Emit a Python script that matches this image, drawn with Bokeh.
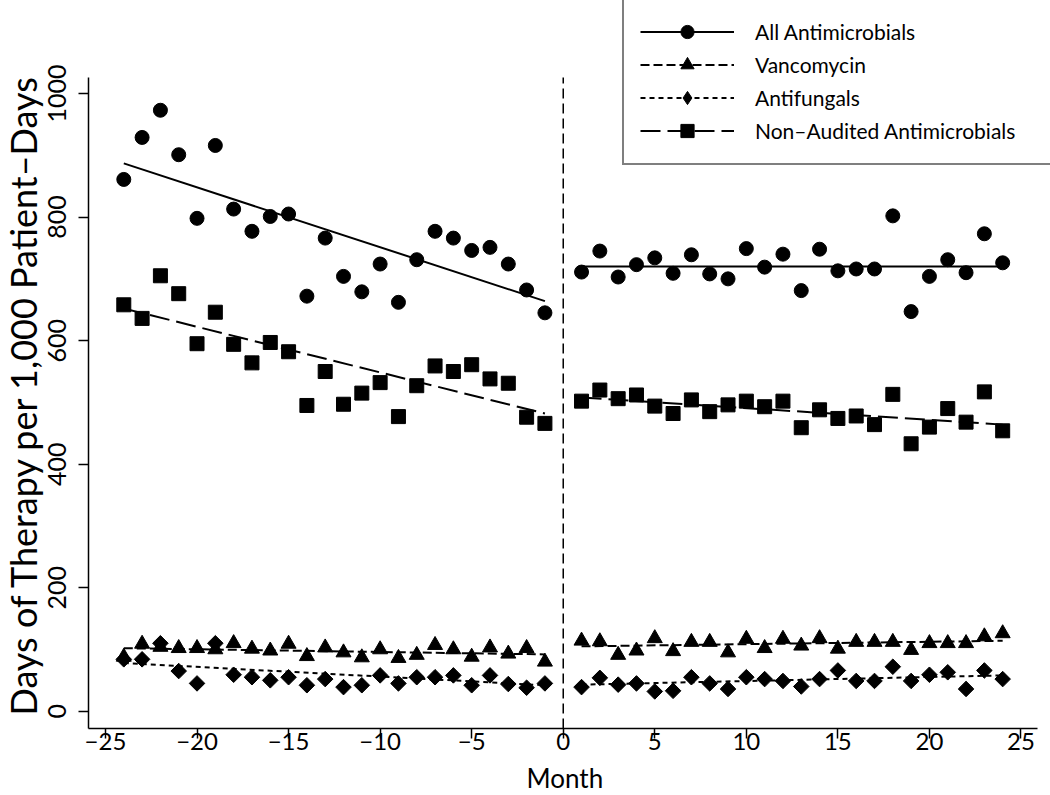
import math
from bokeh.plotting import figure
from bokeh.models import Range1d, FixedTicker, Legend, LegendItem, Title
from bokeh.embed import file_html
from bokeh.resources import INLINE

# ---------------- data ----------------
months_pre = [-24, -23, -22, -21, -20, -19, -18, -17, -16, -15, -14, -13,
              -12, -11, -10, -9, -8, -7, -6, -5, -4, -3, -2, -1]
months_post = [1, 2, 3, 4, 5, 6, 7, 8, 9, 10, 11, 12,
               13, 14, 15, 16, 17, 18, 19, 20, 21, 22, 23, 24]

all_pre = [861, 929, 973, 901, 798, 916, 813, 777, 801, 805, 672, 766,
           704, 679, 724, 662, 731, 777, 766, 746, 751, 724, 682, 645]
all_post = [711, 745, 703, 723, 734, 709, 739, 708, 700, 749, 719, 740,
            681, 748, 713, 716, 716, 802, 647, 704, 731, 710, 773, 726]

vanco_pre = [88, 109, 104, 102, 102, 100, 110, 101, 98, 109, 89, 103,
             95, 87, 100, 86, 91, 107, 100, 88, 103, 93, 102, 80]
vanco_post = [114, 113, 91, 98, 118, 97, 112, 112, 95, 117, 102, 117,
              106, 118, 101, 112, 112, 112, 99, 110, 110, 110, 121, 126]

fungal_pre = [84, 84, 110, 65, 45, 110, 59, 55, 50, 55, 42, 52,
              39, 42, 58, 45, 55, 55, 58, 42, 58, 44, 38, 45]
fungal_post = [39, 54, 43, 45, 32, 33, 55, 45, 36, 55, 52, 49,
               40, 52, 66, 49, 49, 72, 49, 59, 63, 36, 66, 52]

nonaud_pre = [658, 636, 705, 676, 595, 646, 594, 564, 597, 582, 495, 550,
              497, 515, 532, 477, 527, 559, 550, 561, 538, 531, 476, 466]
nonaud_post = [502, 520, 506, 512, 494, 482, 504, 485, 496, 502, 493, 502,
               459, 488, 474, 478, 464, 513, 433, 460, 490, 468, 517, 454]

# fitted segment trend lines (start, end)
seg_x = [[-24, -1], [1, 24]]
trend_all = [[887, 664], [720, 720]]
trend_vanco = [[102, 92], [105, 114]]
trend_fungal = [[78, 42], [43, 58]]
trend_nonaud = [[652, 482], [508, 464]]

x_ticks = [-25, -20, -15, -10, -5, 0, 5, 10, 15, 20, 25]
y_ticks = [0, 200, 400, 600, 800, 1000]
x_axis_span = (-25.9, 25.9)
y_axis_span = (-28, 1026)
intervention_month = 0

FONT = "Lato"

# The frame covers almost the whole canvas; the axes are pinned at the ends of
# their spans so that tick labels fall inside the frame.
p = figure(width=1050, height=795, output_backend="svg", toolbar_location=None,
           x_range=Range1d(-28.221, 26.612), y_range=Range1d(-78.2, 1150.7),
           min_border_left=46, min_border_right=0, min_border_top=0,
           min_border_bottom=36)
p.outline_line_color = None
p.xgrid.grid_line_color = None
p.ygrid.grid_line_color = None
p.background_fill_color = "white"
p.border_fill_color = "white"

for ax in (p.xaxis[0], p.yaxis[0]):
    ax.axis_line_color = "black"
    ax.axis_line_width = 1.5
    ax.major_tick_line_color = "black"
    ax.major_tick_line_width = 1.5
    ax.major_tick_in = 0
    ax.major_tick_out = 10
    ax.minor_tick_line_color = None
    ax.major_label_text_font = FONT
    ax.major_label_text_color = "black"

p.xaxis.bounds = x_axis_span
p.yaxis.bounds = y_axis_span
p.xaxis.fixed_location = y_axis_span[0]
p.yaxis.fixed_location = x_axis_span[0]
p.xaxis.ticker = FixedTicker(ticks=x_ticks)
p.yaxis.ticker = FixedTicker(ticks=y_ticks)
p.xaxis.major_label_overrides = {t: (("\u2212" + str(-t)) if t < 0 else str(t)) for t in x_ticks}
p.xaxis.major_label_text_font_size = "24px"
p.yaxis.major_label_text_font_size = "25px"
p.yaxis.major_label_orientation = "vertical"
p.xaxis.major_label_standoff = -5
p.yaxis.major_label_standoff = 13

# axis titles
p.add_layout(Title(text="Month", align="left", offset=480, standoff=0,
                   text_font=FONT, text_font_size="26px", text_font_style="normal",
                   text_color="black"), "below")
p.add_layout(Title(text="Days of Therapy per 1,000 Patient\u2013Days", align="left",
                   offset=44, standoff=0, vertical_align="top", text_font=FONT,
                   text_font_size="36px", text_font_style="normal",
                   text_color="black"), "left")

# vertical interruption line at month 0 spanning the y axis
p.segment(x0=[intervention_month], y0=[y_axis_span[0]], x1=[intervention_month],
          y1=[y_axis_span[1]], line_color="black", line_width=1.5, line_dash="10 5")

def series(pre, post, trend, marker, size, dash, angle=0.0, legend_marker=None):
    ln = p.multi_line(xs=seg_x, ys=trend, line_color="black", line_width=2,
                      line_dash=dash)
    sc = p.scatter(months_pre + months_post, pre + post, marker=marker,
                   size=size, angle=angle, fill_color="black", line_color="black")
    if legend_marker is None:
        return [ln, sc]
    # legend-only key marker (NaN position, never drawn in the plot area)
    key = p.scatter(x=[float("nan")], y=[float("nan")], marker=legend_marker,
                    size=size, fill_color="black", line_color="black")
    return [ln, key]

r_all = series(all_pre, all_post, trend_all, "circle", 14, "solid")
r_van = series(vanco_pre, vanco_post, trend_vanco, "triangle", 15, "9 4")
r_fun = series(fungal_pre, fungal_post, trend_fungal, "square", 11, "5 4",
               angle=math.pi / 4, legend_marker="diamond")
r_non = series(nonaud_pre, nonaud_post, trend_nonaud, "square", 14, "20 7")

legend = Legend(items=[
    LegendItem(label="All Antimicrobials", renderers=r_all),
    LegendItem(label="Vancomycin", renderers=r_van),
    LegendItem(label="Antifungals", renderers=r_fun),
    LegendItem(label="Non\u2013Audited Antimicrobials", renderers=r_non),
], location=(576, 594))
legend.label_text_font = FONT
legend.label_text_font_size = "21px"
legend.label_text_color = "black"
legend.glyph_width = 94
legend.glyph_height = 33
legend.label_height = 20
legend.spacing = 0
legend.padding = 16
legend.margin = 0
legend.label_standoff = 21
legend.label_width = 279
legend.border_line_color = "black"
legend.border_line_width = 2
legend.background_fill_color = "white"
legend.background_fill_alpha = 1.0
p.add_layout(legend, "center")

open("out.html", "w").write(file_html(p, INLINE))
